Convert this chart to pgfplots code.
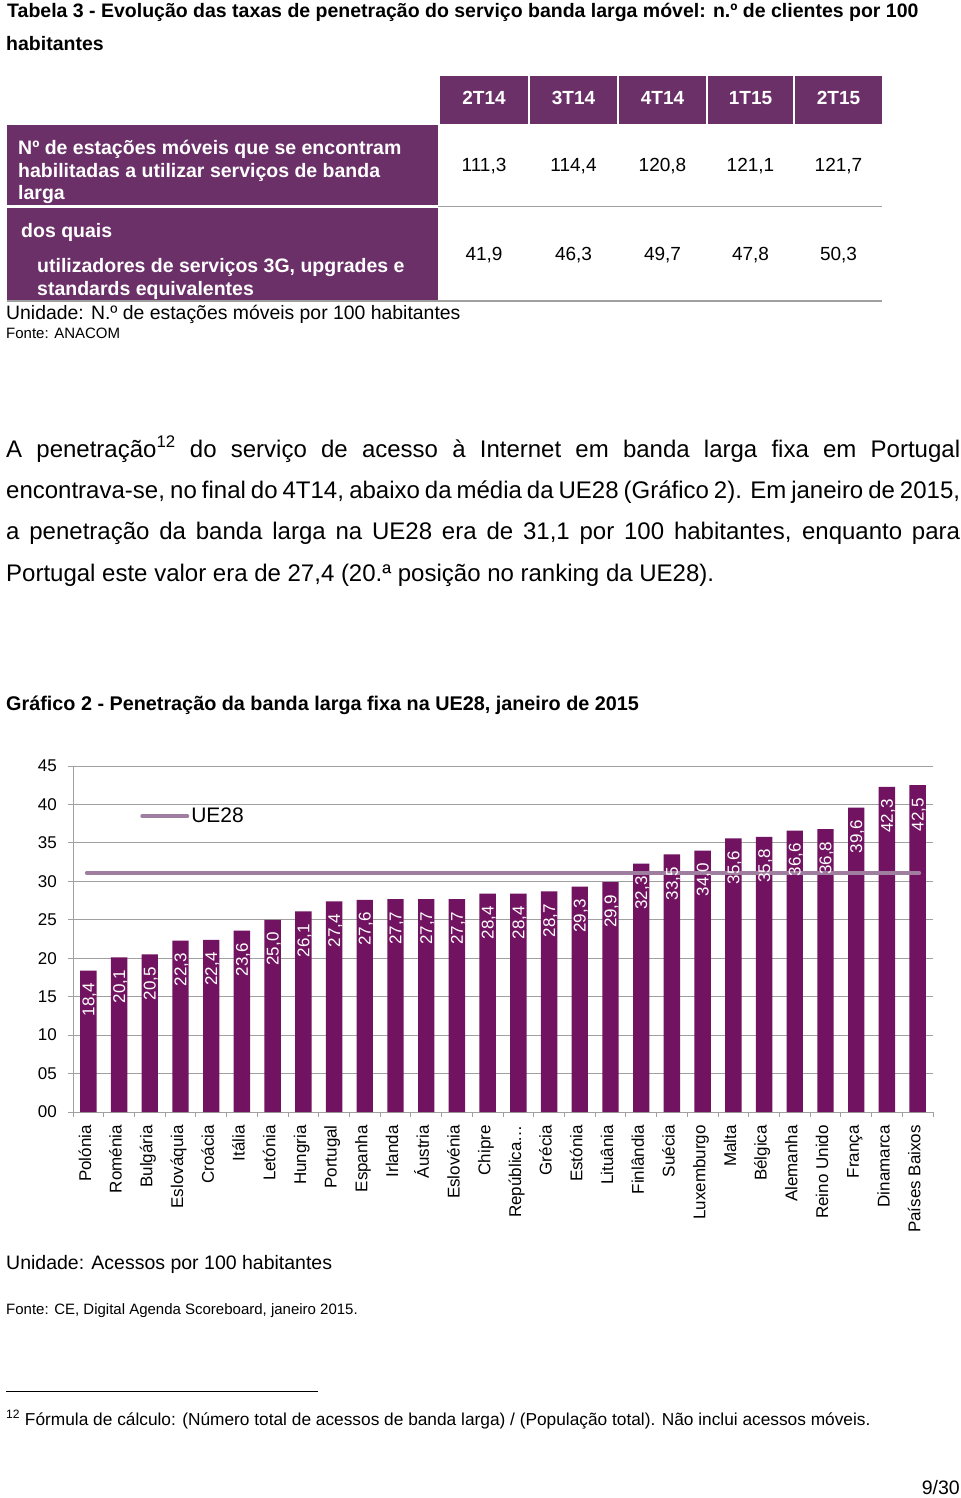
\documentclass[border=0pt]{standalone}
\usepackage{fontspec}
\setmainfont{Liberation Sans}
\usepackage{pgfplots}
\usepackage{pgfplotstable}
\pgfplotsset{compat=1.18}
\definecolor{hdr}{RGB}{107,48,104}
\definecolor{barc}{RGB}{113,19,96}
\definecolor{ue}{RGB}{160,126,160}
\definecolor{grd}{RGB}{160,160,160}
\newcommand{\fs}[1]{\fontsize{#1}{#1}\selectfont}

\pgfplotstableread{
x v
0 18.4
1 20.1
2 20.5
3 22.3
4 22.4
5 23.6
6 25.0
7 26.1
8 27.4
9 27.6
10 27.7
11 27.7
12 27.7
13 28.4
14 28.4
15 28.7
16 29.3
17 29.9
18 32.3
19 33.5
20 34.0
21 35.6
22 35.8
23 36.6
24 36.8
25 39.6
26 42.3
27 42.5
}\data

\begin{document}
\begin{tikzpicture}[x=1pt,y=1pt]
\fill[white] (0,0) rectangle (960,-1498);

% ---------- Table 3 ----------
\node[anchor=base west, inner sep=0pt] at (7,-18) {\fs{19.5}\bfseries Tabela 3 - Evolução das taxas de penetração do serviço banda larga móvel: n.º de clientes por 100};
\node[anchor=base west, inner sep=0pt] at (6,-51) {\fs{19.5}\bfseries habitantes};

\foreach \a/\b/\t in {440/528/2T14, 530/617/3T14, 619/706/4T14, 708/793/1T15, 795/882/2T15} {
  \fill[hdr] (\a,-76) rectangle (\b,-124);
  \node[text=white, anchor=base, inner sep=0pt] at ({(\a+\b)/2},-105) {\fs{19}\bfseries \t};
}
\fill[hdr] (7,-125) rectangle (438,-205);
\fill[hdr] (7,-208) rectangle (438,-300);
\draw[grd, line width=1.5pt] (438,-206.5) -- (882,-206.5);
\draw[grd, line width=1.5pt] (7,-300.8) -- (882,-300.8);

\node[text=white, anchor=base west, inner sep=0pt] at (18,-155) {\fs{19.5}\bfseries Nº de estações móveis que se encontram};
\node[text=white, anchor=base west, inner sep=0pt] at (18,-177.5) {\fs{19.5}\bfseries habilitadas a utilizar serviços de banda};
\node[text=white, anchor=base west, inner sep=0pt] at (18,-200) {\fs{19.5}\bfseries larga};
\node[text=white, anchor=base west, inner sep=0pt] at (21,-237) {\fs{19.5}\bfseries dos quais};
\node[text=white, anchor=base west, inner sep=0pt] at (37,-272) {\fs{19.5}\bfseries utilizadores de serviços 3G, upgrades e};
\node[text=white, anchor=base west, inner sep=0pt] at (37,-295) {\fs{19.5}\bfseries standards equivalentes};

\foreach \c/\u/\w in {484/{111,3}/{41,9}, 573.5/{114,4}/{46,3}, 662.5/{120,8}/{49,7}, 750.5/{121,1}/{47,8}, 838.5/{121,7}/{50,3}} {
  \node[anchor=base, inner sep=0pt] at (\c,-172) {\fs{19}\u};
  \node[anchor=base, inner sep=0pt] at (\c,-260) {\fs{19}\w};
}
\node[anchor=base west, inner sep=0pt] at (6,-319) {\fs{19.4}Unidade: N.º de estações móveis por 100 habitantes};
\node[anchor=base west, inner sep=0pt] at (6,-338) {\fs{15}Fonte: ANACOM};

% ---------- paragraph ----------
\node[anchor=base west, inner sep=0pt] at (6,-457) {\fs{24}\makebox[954pt][s]{A penetração\textsuperscript{12} do serviço de acesso à Internet em banda larga fixa em Portugal}};
\node[anchor=base west, inner sep=0pt] at (6,-498) {\fs{24}\makebox[954pt][s]{encontrava-se, no final do 4T14, abaixo da média da UE28 (Gráfico 2). Em janeiro de 2015,}};
\node[anchor=base west, inner sep=0pt] at (6,-539) {\fs{24}\makebox[954pt][s]{a penetração da banda larga na UE28 era de 31,1 por 100 habitantes, enquanto para}};
\node[anchor=base west, inner sep=0pt] at (6,-581) {\fs{24}Portugal este valor era de 27,4 (20.ª posição no ranking da UE28).};

% ---------- chart ----------
\node[anchor=base west, inner sep=0pt] at (6,-710) {\fs{19.8}\bfseries Gráfico 2 - Penetração da banda larga fixa na UE28, janeiro de 2015};

\begin{axis}[
  at={(73pt,-1112pt)}, anchor=south west,
  scale only axis, width=860pt, height=346pt,
  xmin=-0.5, xmax=27.5, ymin=0, ymax=45,
  axis lines=left, axis line style={grd, line width=1pt, -},
  tick align=outside, major tick length=5pt,
  tick style={grd, line width=1pt},
  ytick={0,5,...,45},
  yticklabels={00,05,10,15,20,25,30,35,40,45},
  yticklabel style={font=\fs{17}, inner xsep=11pt},
  ymajorgrids, grid style={grd, line width=1pt},
  xtick={0,...,27},
  xticklabels={Polónia,Roménia,Bulgária,Eslováquia,Croácia,Itália,Letónia,Hungria,Portugal,Espanha,Irlanda,Áustria,Eslovénia,Chipre,República…,Grécia,Estónia,Lituânia,Finlândia,Suécia,Luxemburgo,Malta,Bélgica,Alemanha,Reino Unido,França,Dinamarca,Países Baixos},
  xtick style={draw=none},
  xticklabel style={rotate=90, anchor=mid east, font=\fs{17}, inner xsep=8pt},
  extra x ticks={-0.5,0.5,...,27.5},
  extra x tick labels={},
  extra x tick style={xtick style={draw=grd, line width=1pt}},
  clip=false,
  legend style={at={(axis description cs:0.078,0.855)}, anchor=west, draw=none, fill=none, font=\fs{21}, inner sep=0pt, /tikz/every even column/.append style={column sep=0pt}},
  legend image code/.code={\draw[#1] (0pt,0pt) -- (45pt,0pt);},
]
\addplot[ybar, bar width=16.4pt, bar shift=0pt, fill=barc, draw=none, forget plot] table[x=x,y=v]{\data};
\addplot[ue, line width=4pt, line cap=round] coordinates {(-0.05,31.1) (27.05,31.1)};
\addlegendentry{UE28}
\addplot[ybar, bar width=16.4pt, bar shift=0pt, fill=none, draw=none, forget plot,
  nodes near coords={\pgfmathprintnumber[fixed, fixed zerofill, precision=1, use comma, assume math mode=true]{\pgfplotspointmeta}},
  every node near coord/.append style={text=white, font=\fs{17}, rotate=90, anchor=east, text depth=0pt, inner xsep=12.5pt, inner ysep=0pt}
] table[x=x,y=v]{\data};
\end{axis}

\node[anchor=base west, inner sep=0pt] at (6,-1269) {\fs{19.5}Unidade: Acessos por 100 habitantes};
\node[anchor=base west, inner sep=0pt] at (6,-1314) {\fs{15}Fonte: CE, Digital Agenda Scoreboard, janeiro 2015.};

\draw[black, line width=1pt] (6,-1391) -- (318,-1391);
\node[anchor=base west, inner sep=0pt] at (6,-1425) {\fs{17.3}\textsuperscript{12} Fórmula de cálculo: (Número total de acessos de banda larga) / (População total). Não inclui acessos móveis.};
\node[anchor=base east, inner sep=0pt] at (960,-1494) {\fs{19.5}9/30};
\end{tikzpicture}
\end{document}
